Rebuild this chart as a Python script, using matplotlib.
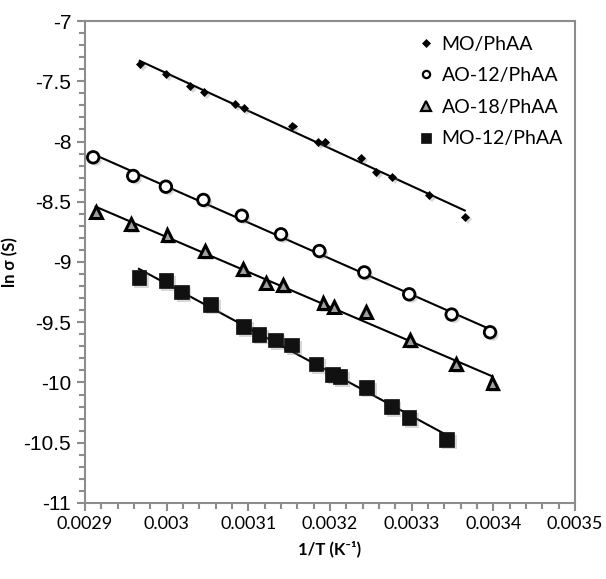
import numpy as np
import matplotlib
matplotlib.use("Agg")
import matplotlib.pyplot as plt
import matplotlib.patheffects as pe
from matplotlib.ticker import MultipleLocator

# 1/T (K^-1) and ln(sigma)
mo_x = [0.002967, 0.002999, 0.003029, 0.003046, 0.003084, 0.003095, 0.003154,
        0.003185, 0.003194, 0.003238, 0.003256, 0.003276, 0.003321, 0.003365]
mo_y = [-7.357, -7.442, -7.539, -7.587, -7.691, -7.725, -7.871,
        -8.002, -8.002, -8.134, -8.251, -8.292, -8.447, -8.624]

ao12_x = [0.002910, 0.002959, 0.002999, 0.003045, 0.003092, 0.003140,
          0.003187, 0.003242, 0.003297, 0.003349, 0.003396]
ao12_y = [-8.131, -8.286, -8.375, -8.485, -8.616, -8.770,
          -8.909, -9.086, -9.268, -9.436, -9.583]

ao18_x = [0.002913, 0.002956, 0.003001, 0.003047, 0.003093, 0.003122, 0.003142,
          0.003192, 0.003205, 0.003244, 0.003298, 0.003354, 0.003399]
ao18_y = [-8.583, -8.687, -8.776, -8.909, -9.061, -9.172, -9.191,
          -9.343, -9.371, -9.412, -9.647, -9.849, -10.007]

mo12_x = [0.002966, 0.002999, 0.003018, 0.003054, 0.003094, 0.003113, 0.003133,
          0.003153, 0.003183, 0.003203, 0.003212, 0.003245, 0.003275, 0.003297, 0.003343]
mo12_y = [-9.130, -9.155, -9.249, -9.351, -9.537, -9.600, -9.647,
          -9.689, -9.846, -9.932, -9.952, -10.040, -10.201, -10.292, -10.471]

labels = ["MO/PhAA", "AO-12/PhAA", "AO-18/PhAA", "MO-12/PhAA"]

fig = plt.figure(figsize=(6.06, 5.79), dpi=100)
ax = fig.add_axes([0.1403, 0.1313, 0.8085, 0.8324])

shadow = [pe.SimplePatchShadow(offset=(2, -2), shadow_rgbFace="0.5", alpha=0.3), pe.Normal()]

series = [
    (mo_x, mo_y, dict(marker="D", ms=4.2, mfc="black", mec="black", mew=0.5)),
    (ao12_x, ao12_y, dict(marker="o", ms=8.3, mfc="white", mec="black", mew=2.0)),
    (ao18_x, ao18_y, dict(marker="^", ms=8.5, mfc="#a0a0a0", mec="black", mew=2.2)),
    (mo12_x, mo12_y, dict(marker="s", ms=10.5, mfc="#111111", mec="#111111", mew=0.5)),
]
# marker sizes in the legend are smaller than in the plot
legend_ms = [4.0, 5.2, 6.5, 6.5]
legend_mew = [0.5, 1.6, 1.6, 0.5]

handles = []
for (xs, ys, style), lab in zip(series, labels):
    xs = np.array(xs)
    ys = np.array(ys)
    # linear trendline
    k, b = np.polyfit(xs, ys, 1)
    xf = np.array([xs.min(), xs.max()])
    ax.plot(xf, k * xf + b, color="black", lw=1.5, zorder=2)
    h, = ax.plot(xs, ys, linestyle="none", zorder=3, label=lab,
                 path_effects=shadow, **style)
    handles.append(h)

ax.set_xlim(0.0029, 0.0035)
ax.set_ylim(-11, -7)
ax.xaxis.set_major_locator(MultipleLocator(0.0001))
ax.xaxis.set_minor_locator(MultipleLocator(0.00002))
ax.yaxis.set_major_locator(MultipleLocator(0.5))
ax.yaxis.set_minor_locator(MultipleLocator(0.1))
ax.xaxis.set_major_formatter(plt.FuncFormatter(lambda v, p: f"{v:.4f}".rstrip("0")))
ax.yaxis.set_major_formatter(plt.FuncFormatter(lambda v, p: f"{v:g}"))

for s in ax.spines.values():
    s.set_color("#8c8c8c")
    s.set_linewidth(1.5)
ax.tick_params(which="major", direction="out", length=6, width=1.5, color="#8c8c8c")
ax.tick_params(which="minor", direction="out", length=4, width=1.5, color="#8c8c8c")
ax.tick_params(axis="y", pad=4)
for t in ax.get_yticklabels():
    t.set_fontfamily("Liberation Sans")
    t.set_fontsize(15)
for t in ax.get_xticklabels():
    t.set_fontfamily("Lato")
    t.set_fontsize(13)

ax.set_xlabel("1/T (K⁻¹)", fontsize=12, fontweight="bold", family=["Lato", "DejaVu Sans"], labelpad=6)
ax.set_ylabel("ln σ (S)", fontsize=12, fontweight="bold", family=["Lato", "DejaVu Sans"], labelpad=4)

leg = ax.legend(handles=handles, loc="upper left", bbox_to_anchor=(0.66, 0.99),
                frameon=False, prop={"family": "Lato", "size": 14},
                handlelength=0.8, handletextpad=0.4, labelspacing=0.75, borderpad=0)
for lh, ms, mew in zip(leg.legend_handles, legend_ms, legend_mew):
    lh.set_markersize(ms)
    lh.set_markeredgewidth(mew)
    lh.set_path_effects([])

fig.savefig("out.png", dpi=100)
